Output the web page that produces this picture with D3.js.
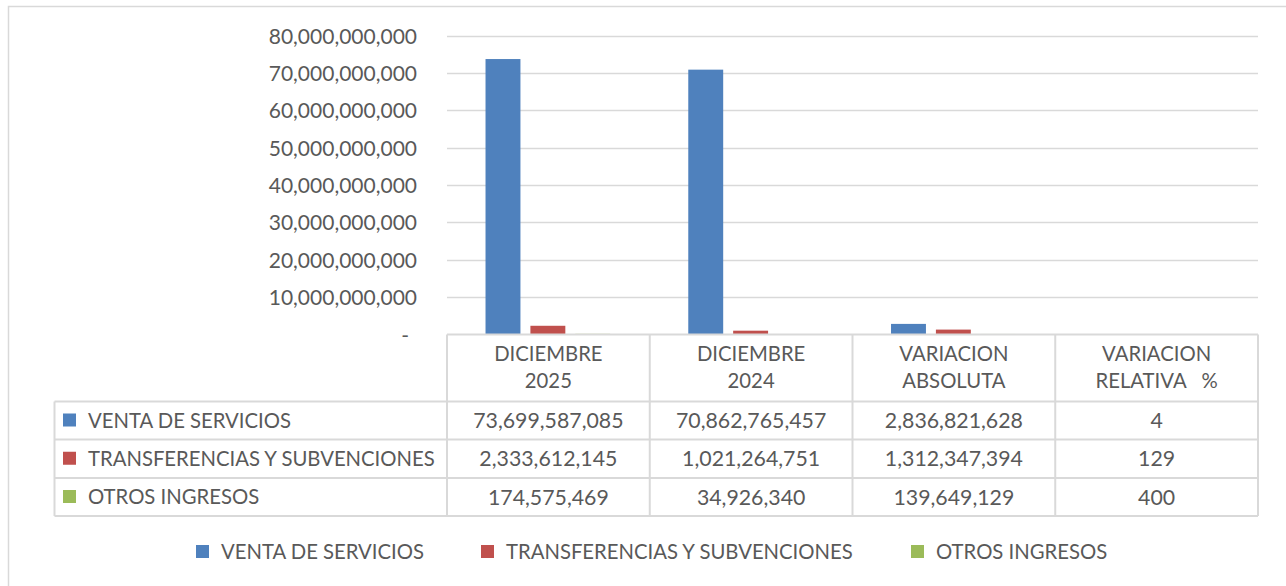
<!DOCTYPE html>
<html>
<head>
<meta charset="utf-8">
<script src="https://cdn.jsdelivr.net/npm/d3@7"></script>
<style>
  html, body { margin: 0; padding: 0; background: #fff; }
  svg { display: block; }
  text { font-family: Lato, "Open Sans", sans-serif; fill: #595959; }
</style>
</head>
<body>
<svg id="chart" width="1286" height="586"></svg>
<script>
// ---- data ----
const categories = ["DICIEMBRE 2025", "DICIEMBRE 2024", "VARIACION ABSOLUTA", "VARIACION RELATIVA %"];
const headerLines = [["DICIEMBRE", "2025"], ["DICIEMBRE", "2024"], ["VARIACION", "ABSOLUTA"], ["VARIACION", "RELATIVA   %"]];
const seriesNames = ["VENTA DE SERVICIOS", "TRANSFERENCIAS Y SUBVENCIONES", "OTROS INGRESOS"];
const ventaServicios = [73699587085, 70862765457, 2836821628, 4];
const transferencias = [2333612145, 1021264751, 1312347394, 129];
const otrosIngresos = [174575469, 34926340, 139649129, 400];
const yTicks = [0, 10e9, 20e9, 30e9, 40e9, 50e9, 60e9, 70e9, 80e9];
const colors = ["#4f81bd", "#c0504d", "#9bbb59"];

const seriesValues = [ventaServicios, transferencias, otrosIngresos];

const svg = d3.select("#chart");

// outer frame
svg.append("rect").attr("x", 8.5).attr("y", 6.5).attr("width", 1300).attr("height", 600)
  .attr("fill", "none").attr("stroke", "#d9d9d9").attr("stroke-width", 1.5);

const plotLeft = 447, plotRight = 1258, plotTop = 35.5, plotBottom = 334.5;

const x = d3.scaleBand().domain(categories).range([plotLeft, plotRight]).paddingInner(0).paddingOuter(0);
const xs = d3.scaleBand().domain(seriesNames)
  .range([x.bandwidth() * 0.19, x.bandwidth() * 0.805]).paddingInner(0.222).paddingOuter(0);
const y = d3.scaleLinear().domain([0, 80e9]).range([plotBottom, plotTop]);

// gridlines
svg.append("g").selectAll("line").data(yTicks.filter(d => d > 0)).join("line")
  .attr("x1", plotLeft).attr("x2", plotRight)
  .attr("y1", d => Math.round(y(d)) + 0.5).attr("y2", d => Math.round(y(d)) + 0.5)
  .attr("stroke", "#d9d9d9").attr("stroke-width", 1.3);

// y axis labels
const fmt = d3.format(",");
const yAxis = d3.axisLeft(y).tickValues(yTicks).tickSize(0).tickPadding(0)
  .tickFormat(d => d === 0 ? "-" : fmt(d));
const gy = svg.append("g").attr("transform", `translate(417,0)`).call(yAxis);
gy.select(".domain").remove();
gy.selectAll("text").style("font-family", "Lato, sans-serif").style("font-size", "21px")
  .attr("fill", "#595959").attr("dy", "0.36em");
gy.selectAll(".tick").filter(d => d === 0).select("text").attr("x", -8);

// bars
const barData = [];
seriesNames.forEach((s, si) => {
  categories.forEach((c, ci) => {
    barData.push({ s, si, c, v: seriesValues[si][ci] });
  });
});
svg.append("g").selectAll("rect").data(barData).join("rect")
  .attr("x", d => x(d.c) + xs(d.s))
  .attr("width", xs.bandwidth())
  .attr("y", d => y(d.v))
  .attr("height", d => plotBottom - y(d.v))
  .attr("fill", d => colors[d.si]);

// data table
const rowTops = [334.5, 401.5, 439.5, 478, 516];
const tableLeft = 54.5;
const colEdges = categories.map(c => x(c)).concat([plotRight]);
const tg = svg.append("g");
const lineStyle = sel => sel.attr("stroke", "#d9d9d9").attr("stroke-width", 2);

tg.append("line").attr("x1", plotLeft).attr("x2", plotRight).attr("y1", rowTops[0]).attr("y2", rowTops[0]).call(lineStyle);
rowTops.slice(1).forEach(yy => {
  tg.append("line").attr("x1", tableLeft).attr("x2", plotRight).attr("y1", yy).attr("y2", yy).call(lineStyle);
});
colEdges.forEach(xx => {
  tg.append("line").attr("x1", xx).attr("x2", xx).attr("y1", rowTops[0]).attr("y2", rowTops[4]).call(lineStyle);
});
tg.append("line").attr("x1", tableLeft).attr("x2", tableLeft).attr("y1", rowTops[1]).attr("y2", rowTops[4]).call(lineStyle);

// header text
categories.forEach((c, ci) => {
  const cx = x(c) + x.bandwidth() / 2;
  headerLines[ci].forEach((ln, li) => {
    tg.append("text").attr("x", cx).attr("y", 354 + li * 27).attr("dy", "0.36em")
      .attr("text-anchor", "middle").style("font-size", "20.3px").style("white-space", "pre")
      .text(ln);
  });
});

// rows
seriesNames.forEach((s, si) => {
  const cy = (rowTops[si + 1] + rowTops[si + 2]) / 2;
  tg.append("rect").attr("x", 63).attr("y", cy - 7).attr("width", 13).attr("height", 13).attr("fill", colors[si]);
  tg.append("text").attr("x", 88).attr("y", cy).attr("dy", "0.36em").style("font-size", "20.3px").text(s);
  categories.forEach((c, ci) => {
    tg.append("text").attr("x", x(c) + x.bandwidth() / 2).attr("y", cy).attr("dy", "0.36em")
      .attr("text-anchor", "middle").style("font-size", "21.3px")
      .text(fmt(seriesValues[si][ci]));
  });
});

// legend
const legendX = [196, 481, 911];
const lg = svg.append("g");
seriesNames.forEach((s, si) => {
  lg.append("rect").attr("x", legendX[si]).attr("y", 545).attr("width", 13).attr("height", 13).attr("fill", colors[si]);
  lg.append("text").attr("x", legendX[si] + 25).attr("y", 551.5).attr("dy", "0.36em").style("font-size", "20.3px").text(s);
});
</script>
</body>
</html>
